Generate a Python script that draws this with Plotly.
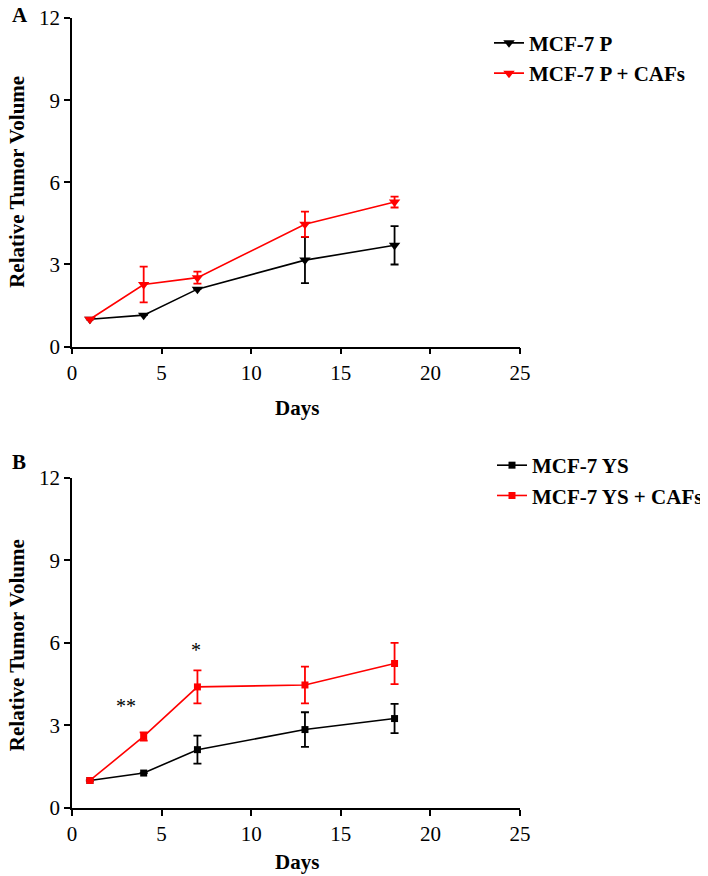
import plotly.graph_objects as go

days = [1, 4, 7, 13, 18]

# Panel A
a_p_mean = [1.0, 1.15, 2.1, 3.16, 3.7]
a_p_err = [0.0, 0.0, 0.0, 0.84, 0.7]
a_caf_mean = [1.0, 2.27, 2.52, 4.47, 5.28]
a_caf_err = [0.0, 0.65, 0.22, 0.46, 0.2]

# Panel B
b_ys_mean = [1.0, 1.27, 2.12, 2.85, 3.25]
b_ys_err = [0.0, 0.0, 0.51, 0.63, 0.53]
b_caf_mean = [1.0, 2.6, 4.4, 4.47, 5.25]
b_caf_err = [0.0, 0.15, 0.6, 0.67, 0.75]

x_ticks = [0, 5, 10, 15, 20, 25]
y_ticks = [0, 3, 6, 9, 12]

sig_labels = ["**", "*"]
sig_x = [3.0, 6.9]
sig_y = [3.7, 5.75]

FONT = "Liberation Serif"
OFF = 8  # page body margin
W, H = 708 - OFF, 876 - OFF
L = 72 - OFF
R = W - (520 - OFF)
T = 18.3 - OFF
B = H - (807.7 - OFF)


def px(xp):
    return (xp - OFF - L) / (W - L - R)


def py(yp):
    return (H - B - (yp - OFF)) / (H - T - B)


fig = go.Figure()


def add_series(x, y, err, color, symbol, size, name, xa, ya, legend):
    fig.add_trace(go.Scatter(
        x=x, y=y, name=name, mode="lines+markers",
        line=dict(color=color, width=1.6),
        marker=dict(symbol=symbol, size=size, color=color),
        error_y=dict(type="data", array=err, visible=True, color=color, thickness=1.8, width=4),
        xaxis=xa, yaxis=ya, legend=legend,
    ))


add_series(days, a_p_mean, a_p_err, "black", "triangle-down", 10, "MCF-7 P", "x", "y", "legend")
add_series(days, a_caf_mean, a_caf_err, "#ff0000", "triangle-down", 10, "MCF-7 P + CAFs", "x", "y", "legend")
add_series(days, b_ys_mean, b_ys_err, "black", "square", 7, "MCF-7 YS", "x2", "y2", "legend2")
add_series(days, b_caf_mean, b_caf_err, "#ff0000", "square", 7, "MCF-7 YS + CAFs", "x2", "y2", "legend2")

axis_common = dict(
    showline=True, linecolor="black", linewidth=1.6, showgrid=False, zeroline=False,
    ticks="outside", ticklen=6, tickwidth=1.6, tickcolor="black", automargin=False,
    ticklabeloverflow="allow",
    tickfont=dict(family=FONT, size=21, color="black"),
)

legend_font = dict(family=FONT, size=21, color="black", weight="bold")

fig.update_layout(
    width=W, height=H,
    margin=dict(l=L, r=R, t=T, b=B, autoexpand=False),
    paper_bgcolor="white", plot_bgcolor="white",
    showlegend=True,
    xaxis=dict(domain=[0, 1], anchor="y", range=[0, 25], tickvals=x_ticks, **axis_common),
    yaxis=dict(domain=[py(346.7), py(18.3)], anchor="x", range=[0, 12], tickvals=y_ticks, **axis_common),
    xaxis2=dict(domain=[0, 1], anchor="y2", range=[0, 25], tickvals=x_ticks, **axis_common),
    yaxis2=dict(domain=[py(807.7), py(477.7)], anchor="x2", range=[0, 12], tickvals=y_ticks, **axis_common),
    legend=dict(x=px(489), y=py(23), xanchor="left", yanchor="top",
                font=legend_font, bgcolor="rgba(0,0,0,0)", tracegroupgap=0, itemwidth=30),
    legend2=dict(x=px(492), y=py(445), xanchor="left", yanchor="top",
                 font=legend_font, bgcolor="rgba(0,0,0,0)", tracegroupgap=0, itemwidth=30),
)

for lbl, sx, sy in zip(sig_labels, sig_x, sig_y):
    fig.add_annotation(x=sx, y=sy, xref="x2", yref="y2", text=lbl, showarrow=False,
                       font=dict(family=FONT, size=20, color="black"))

title_font = dict(family=FONT, size=21, color="black")
# Panel letters
fig.add_annotation(x=px(10), y=py(15), xref="paper", yref="paper", text="<b>A</b>",
                   showarrow=False, xanchor="left", yanchor="middle", font=title_font)
fig.add_annotation(x=px(10), y=py(462), xref="paper", yref="paper", text="<b>B</b>",
                   showarrow=False, xanchor="left", yanchor="middle", font=title_font)
# Axis titles
for yc in [182, 645]:
    fig.add_annotation(x=px(17), y=py(yc), xref="paper", yref="paper",
                       text="<b>Relative Tumor Volume</b>", textangle=-90, showarrow=False,
                       xanchor="center", yanchor="middle", font=title_font)
for yc in [408, 862]:
    fig.add_annotation(x=px(297), y=py(yc), xref="paper", yref="paper",
                       text="<b>Days</b>", showarrow=False,
                       xanchor="center", yanchor="middle", font=title_font)

fig.write_html("out.html")
